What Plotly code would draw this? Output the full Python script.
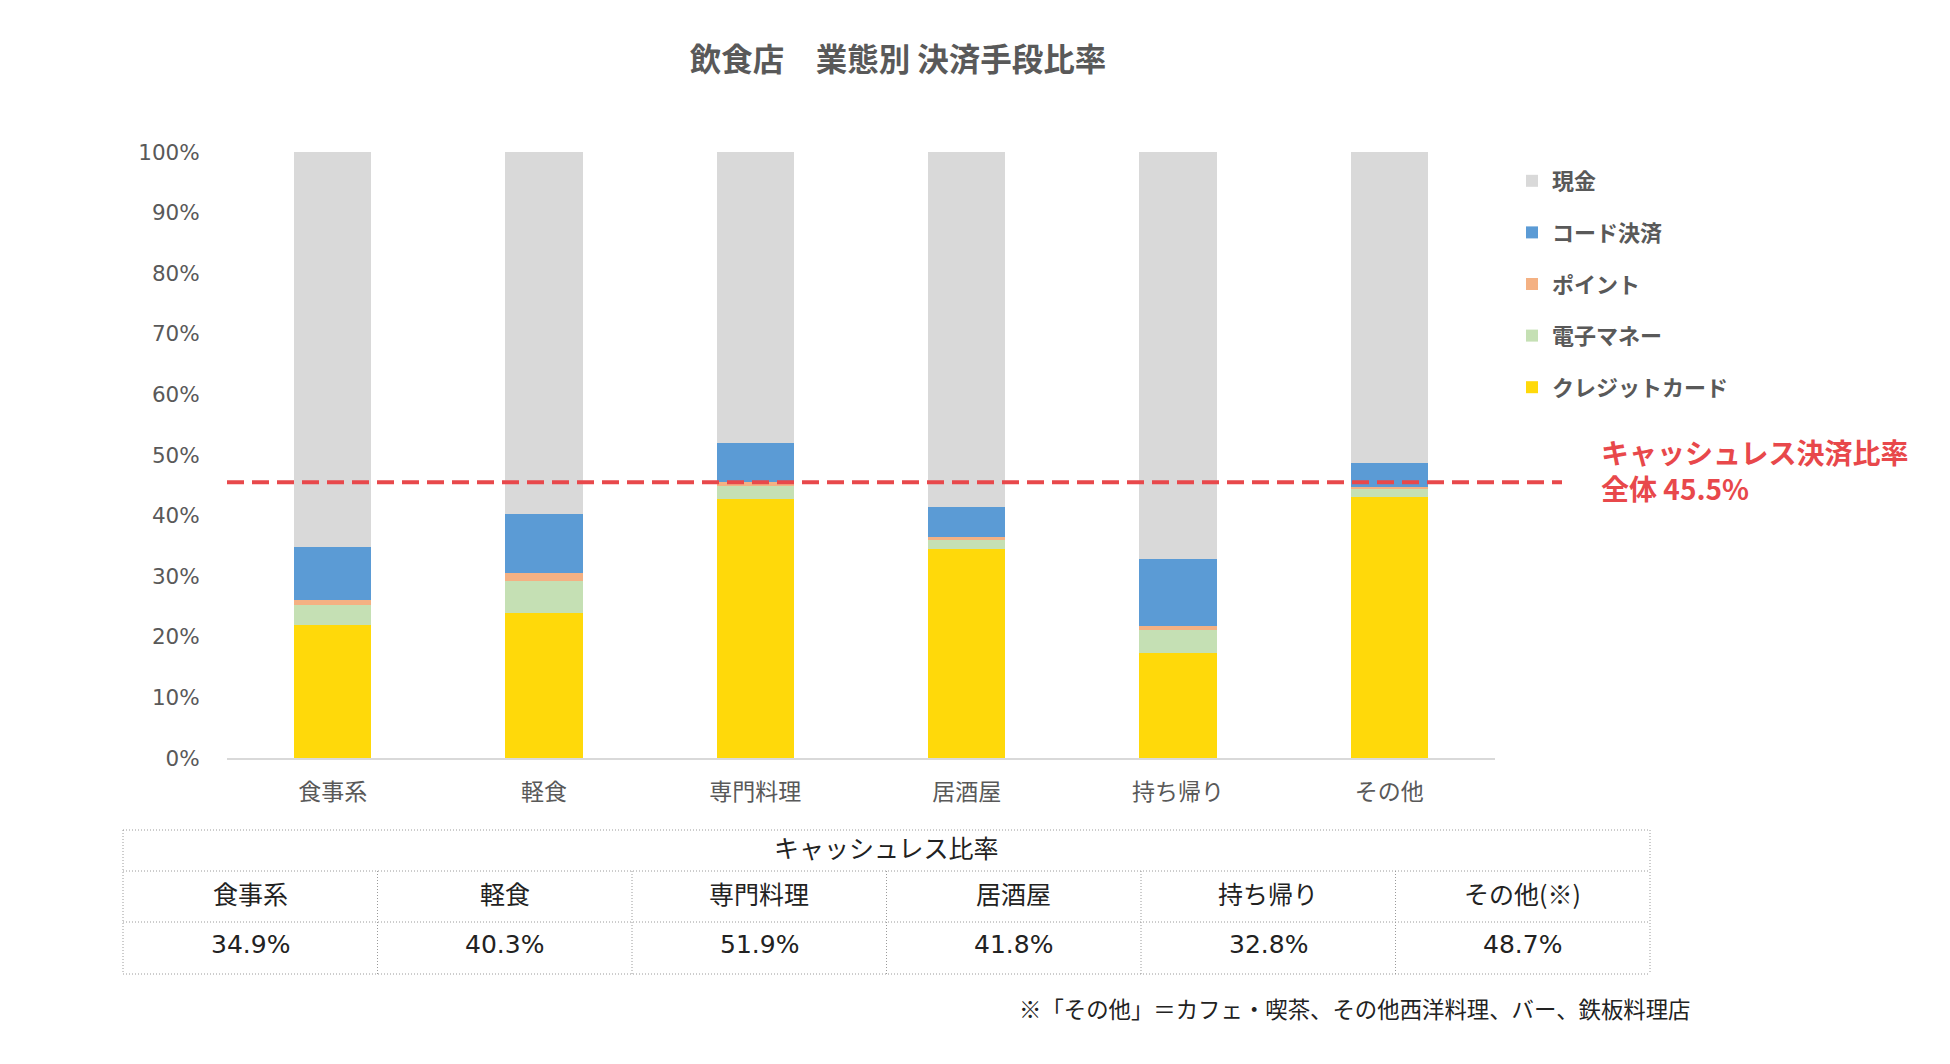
import plotly.graph_objects as go

# ---------------- data ----------------
categories = ["食事系", "軽食", "専門料理", "居酒屋", "持ち帰り", "その他"]
table_labels = ["食事系", "軽食", "専門料理", "居酒屋", "持ち帰り", "その他(※)"]
credit_card = [22.0, 23.9, 42.7, 34.5, 17.3, 43.0]
e_money = [3.3, 5.3, 2.2, 1.5, 3.8, 1.5]
points = [0.8, 1.3, 0.6, 0.4, 0.7, 0.3]
code_payment = [8.8, 9.8, 6.4, 5.0, 11.0, 3.9]
cash = [65.1, 59.7, 48.1, 58.6, 67.2, 51.3]
cashless_ratio = [34.9, 40.3, 51.9, 41.8, 32.8, 48.7]
overall_cashless = 45.5
y_ticks = [0, 10, 20, 30, 40, 50, 60, 70, 80, 90, 100]
y_tick_labels = [f"{v}%" for v in y_ticks]

# name, values, colour, legend rank (top of legend first)
series = [
    ("クレジットカード", credit_card, "#FFD90A", 5),
    ("電子マネー", e_money, "#C5E0B4", 4),
    ("ポイント", points, "#F4B183", 3),
    ("コード決済", code_payment, "#5B9BD5", 2),
    ("現金", cash, "#D9D9D9", 1),
]

# ---------------- layout geometry (reference pixels) ----------------
OFF = 8                 # page body margin
W, H = 1950 - 2 * OFF, 1064 - 2 * OFF
PL, PR = 227, 1495      # plot area left/right (reference coords)
PT, PB = 152, 758       # plot area top/bottom (reference coords)


def px(x):
    return (x - PL) / (PR - PL)


def py(y):
    return (PB - y) / (PB - PT)


CJK = "Noto Sans CJK JP"
GRAY = "#595959"
RED = "#E8484B"
TXT = "#222222"
TEXT_LIFT = 4           # CJK glyphs sit low in their box

fig = go.Figure()
for name, vals, color, rank in series:
    fig.add_trace(go.Bar(
        x=categories, y=vals, name=name, legendgroup=name, legendrank=rank,
        marker=dict(color=color, line=dict(width=0)),
        hoverinfo="x+y+name",
    ))

shapes = []
annotations = []

# overall cashless dashed line
shapes.append(dict(type="line", xref="paper", yref="y",
                   x0=0, x1=px(1562), y0=overall_cashless, y1=overall_cashless,
                   line=dict(color=RED, width=4, dash="17px,8px")))
annotations.append(dict(
    xref="paper", yref="paper", x=px(1599), y=py(474 - TEXT_LIFT),
    xanchor="left", yanchor="middle", align="left", showarrow=False,
    text=f"キャッシュレス決済比率<br>全体 {overall_cashless}%",
    font=dict(family=CJK, size=28, color=RED, weight="bold"),
))

# ---------------- table ----------------
T_L, T_R = 123, 1650
T_rows = [830, 871, 922, 974]
ncol = len(table_labels)
colw = (T_R - T_L) / ncol
line_style = dict(color="#9A9A9A", width=1, dash="1px,2px")
for yy in T_rows:
    shapes.append(dict(type="line", xref="paper", yref="paper",
                       x0=px(T_L), x1=px(T_R), y0=py(yy), y1=py(yy), line=line_style))
for i in range(ncol + 1):
    xx = T_L + i * colw
    y_top = T_rows[0] if i in (0, ncol) else T_rows[1]
    shapes.append(dict(type="line", xref="paper", yref="paper",
                       x0=px(xx), x1=px(xx), y0=py(y_top), y1=py(T_rows[-1]), line=line_style))

annotations.append(dict(
    xref="paper", yref="paper", x=px((T_L + T_R) / 2),
    y=py((T_rows[0] + T_rows[1]) / 2 - TEXT_LIFT),
    xanchor="center", yanchor="middle", showarrow=False, text="キャッシュレス比率",
    font=dict(family=CJK, size=25, color=TXT),
))
for i, (lab, val) in enumerate(zip(table_labels, cashless_ratio)):
    cx = T_L + (i + 0.5) * colw
    annotations.append(dict(
        xref="paper", yref="paper", x=px(cx), y=py((T_rows[1] + T_rows[2]) / 2 - TEXT_LIFT),
        xanchor="center", yanchor="middle", showarrow=False, text=lab,
        font=dict(family=CJK, size=25, color=TXT),
    ))
    annotations.append(dict(
        xref="paper", yref="paper", x=px(cx), y=py((T_rows[2] + T_rows[3]) / 2 - TEXT_LIFT),
        xanchor="center", yanchor="middle", showarrow=False, text=f"{val:.1f}%",
        font=dict(family="DejaVu Sans, " + CJK, size=25, color=TXT),
    ))

# footnote
annotations.append(dict(
    xref="paper", yref="paper", x=px(1693), y=py(1008),
    xanchor="right", yanchor="middle", showarrow=False,
    text="※「その他」＝カフェ・喫茶、その他西洋料理、バー、鉄板料理店",
    font=dict(family=CJK, size=22.4, color=TXT),
))

fig.update_layout(
    width=W, height=H,
    margin=dict(l=PL - OFF, r=W - (PR - OFF), t=PT - OFF, b=H - (PB - OFF), autoexpand=False),
    paper_bgcolor="white", plot_bgcolor="white",
    barmode="stack", bargap=0.635,
    title=dict(text="飲食店　業態別 決済手段比率", x=(898 - OFF) / W, xanchor="center",
               y=1 - (60 - OFF) / H, yanchor="middle", yref="container",
               font=dict(family=CJK, size=31.5, color=GRAY, weight="bold")),
    xaxis=dict(showline=True, linecolor="#D9D9D9", linewidth=2, showgrid=False,
               ticks="outside", ticklen=12, tickcolor="rgba(0,0,0,0)",
               tickfont=dict(family=CJK, size=23, color=GRAY), fixedrange=True),
    yaxis=dict(range=[0, 100], tickmode="array", tickvals=y_ticks, ticktext=y_tick_labels,
               showgrid=False, showline=False, zeroline=False,
               ticks="outside", ticklen=22, tickcolor="rgba(0,0,0,0)",
               tickfont=dict(family="DejaVu Sans", size=21.5, color=GRAY), fixedrange=True),
    legend=dict(x=px(1512), y=py(160), xanchor="left", yanchor="top",
                traceorder="grouped", tracegroupgap=20,
                font=dict(family=CJK, size=22, color=GRAY, weight="bold"),
                bgcolor="rgba(0,0,0,0)"),
    shapes=shapes, annotations=annotations,
)

fig.write_html("out.html")
